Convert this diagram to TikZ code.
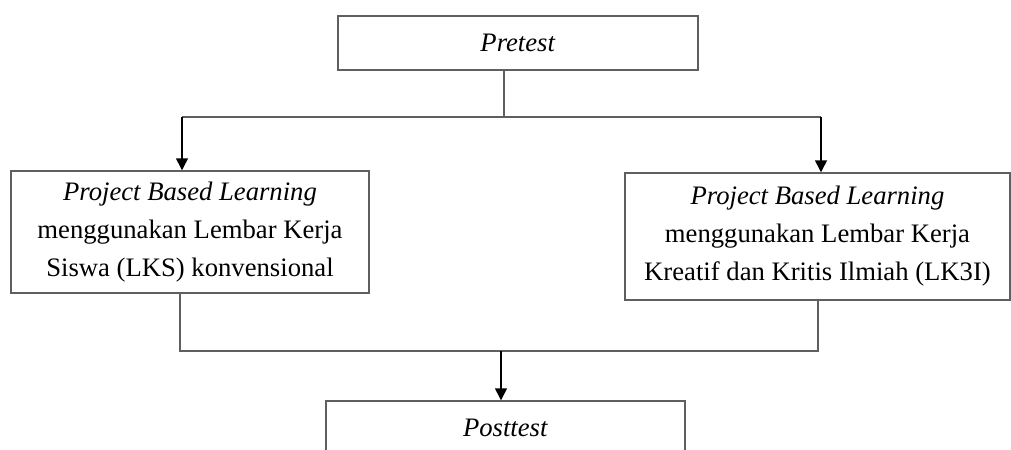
\documentclass[tikz,border=0pt]{standalone}
\usepackage{fontspec}
\setmainfont{Liberation Serif}
\usetikzlibrary{arrows.meta}
\definecolor{linegray}{RGB}{95,95,95}
\tikzset{
  box/.style={draw=linegray, line width=1.1pt, fill=white, align=center, inner sep=0pt,
    font=\fontsize{20}{28.5}\selectfont},
  conn/.style={draw=linegray, line width=1.1pt},
  arr/.style={draw=black, line width=1.1pt, -{Triangle[length=9pt,width=9pt]}}
}
\begin{document}
\begin{tikzpicture}[x=0.75pt,y=-0.75pt]
\useasboundingbox (0,0) rectangle (1011,450);
\clip (0,0) rectangle (1011,450);
\node[box, minimum width=270pt, minimum height=40.5pt] (pre) at (518,43) {\textit{Pretest}};
\node[box, minimum width=268.5pt, minimum height=91.5pt] (left) at (190,232)
  {\textit{Project Based Learning}\\menggunakan Lembar Kerja\\Siswa (LKS) konvensional};
\node[box, minimum width=288.75pt, minimum height=95.25pt] (right) at (817.5,236.5)
  {\textit{Project Based Learning}\\menggunakan Lembar Kerja\\Kreatif dan Kritis Ilmiah (LK3I)};
\node[box, minimum width=269.25pt, minimum height=40.5pt] (post) at (505.5,428) {\textit{Posttest}};
\coordinate (split) at (504,117);
\coordinate (jl) at (182,117);
\coordinate (jr) at (821,117);
\coordinate (ml) at (180,351);
\coordinate (mr) at (818,351);
\coordinate (mm) at (501,351);
\draw[conn] (pre.south -| split) -- (split);
\draw[conn] (jl) -- (jr);
\draw[arr] (jl) -- (jl |- left.north);
\draw[arr] (jr) -- (jr |- right.north);
\draw[conn] (ml |- left.south) -- (ml) -- (mr) -- (mr |- right.south);
\draw[arr] (mm) -- (mm |- post.north);
\end{tikzpicture}
\end{document}
